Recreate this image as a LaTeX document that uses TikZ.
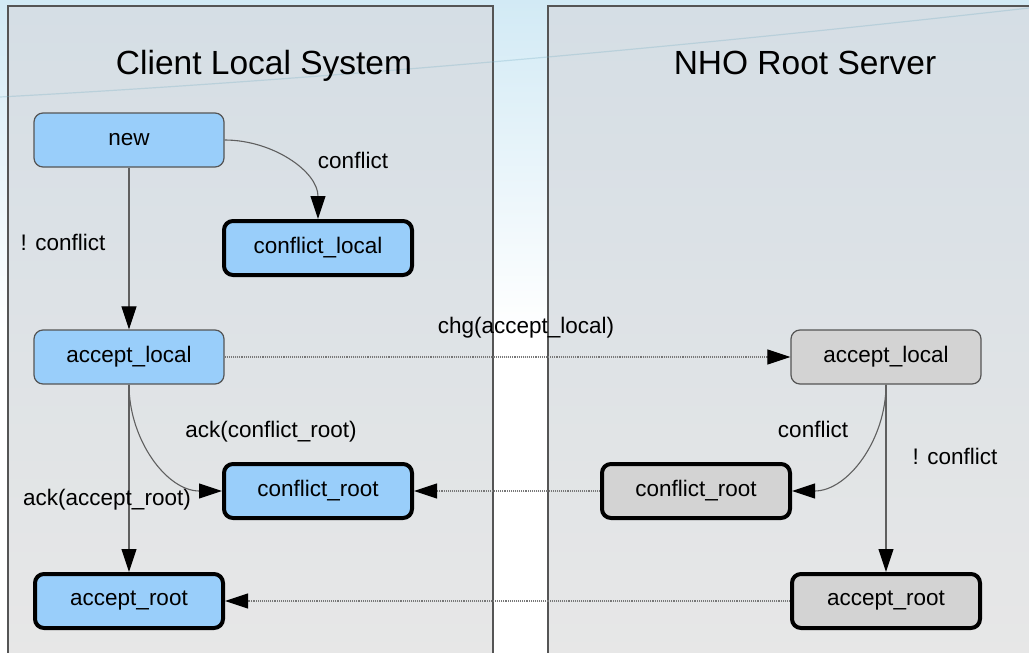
\documentclass[tikz,border=0pt]{standalone}
\usepackage{fontspec}
\setmainfont{Liberation Sans}
\usetikzlibrary{arrows.meta}

\definecolor{localfill}{RGB}{153,206,250}
\definecolor{rootfill}{RGB}{211,211,211}
\definecolor{edgegray}{RGB}{95,95,95}
\definecolor{panelborder}{RGB}{85,85,85}
\definecolor{paneltop}{RGB}{213,222,229}
\definecolor{panelbottom}{RGB}{231,231,231}
\definecolor{skytop}{RGB}{210,234,245}
\definecolor{swoosh}{RGB}{120,175,195}

\tikzset{
  x=1pt, y=1pt,
  state/.style={rounded corners=9pt, minimum width=190pt, minimum height=54pt,
    inner sep=0pt, font=\fontsize{22.5}{26}\selectfont, text=black},
  thinstate/.style={state, draw=panelborder, line width=1.2pt},
  finalstate/.style={state, draw=black, line width=4pt, minimum width=188pt},
  localstate/.style={fill=localfill},
  rootstate/.style={fill=rootfill},
  tip/.tip={Triangle[length=23pt 0 0, width=15pt 0 0, color=black]},
  trans/.style={draw=edgegray, line width=1.1pt, -tip},
  msg/.style={trans, densely dotted, draw=edgegray!85},
  lbl/.style={font=\fontsize{22.5}{26}\selectfont, anchor=base, inner sep=0pt, text=black},
  paneltitle/.style={font=\fontsize{33.5}{38}\selectfont, anchor=base, inner sep=0pt, text=black},
  panel/.style={draw=panelborder, line width=1.3pt, top color=paneltop, bottom color=panelbottom}
}

\begin{document}
\begin{tikzpicture}
  % page background: pale sky at the top fading to white
  \useasboundingbox (0,0) rectangle (1029,-653);
  \fill[white] (0,0) rectangle (1029,-653);
  \shade[top color=skytop, bottom color=white] (0,0) rectangle (1029,-330);

  % the two system panels
  \path[panel] (8,-6) rectangle (493,-660);
  \path[panel] (548,-6) rectangle (1040,-660);

  % slide decoration line
  \draw[swoosh, opacity=0.3, line width=1.2pt]
    (0,-97) .. controls (350,-78) and (700,-45) .. (1029,-8);

  % panel titles
  \node[paneltitle] (tclient) at (264,-74) {Client Local System};
  \node[paneltitle] (tserver) at (805,-74) {NHO Root Server};

  % client states
  \node[thinstate, localstate] (new) at (129,-140) {new};
  \node[finalstate, localstate] (cl) at (318,-248) {conflict\_local};
  \node[thinstate, localstate] (al) at (129,-357) {accept\_local};
  \node[finalstate, localstate] (cr) at (318,-491) {conflict\_root};
  \node[finalstate, localstate] (ar) at (129,-601) {accept\_root};

  % server states
  \node[thinstate, rootstate] (sal) at (886,-357) {accept\_local};
  \node[finalstate, rootstate] (scr) at (696,-491) {conflict\_root};
  \node[finalstate, rootstate] (sar) at (886,-601) {accept\_root};

  % client transitions
  \draw[trans] (new.east) to[out=0, in=90] (cl.north);
  \draw[trans] (new.south) -- (al.north);
  \draw[trans] (al.south) to[out=-90, in=180] (cr.west);
  \draw[trans] (al.south) -- (ar.north);

  % server transitions
  \draw[trans] (sal.south) to[out=-90, in=0] (scr.east);
  \draw[trans] (sal.south) -- (sar.north);

  % messages between the systems
  \draw[msg] (al.east) -- (sal.west);
  \draw[msg] (scr.west) -- (cr.east);
  \draw[msg] (sar.west) -- (ar.east);

  % transition labels
  \node[lbl] (l1) at (353,-168) {conflict};
  \node[lbl] (l2) at (63,-250) {! conflict};
  \node[lbl] (l3) at (526,-333) {chg(accept\_local)};
  \node[lbl] (l4) at (271,-437) {ack(conflict\_root)};
  \node[lbl] (l5) at (107,-505) {ack(accept\_root)};
  \node[lbl] (l6) at (813,-437) {conflict};
  \node[lbl] (l7) at (955,-464) {! conflict};
\end{tikzpicture}
\end{document}
